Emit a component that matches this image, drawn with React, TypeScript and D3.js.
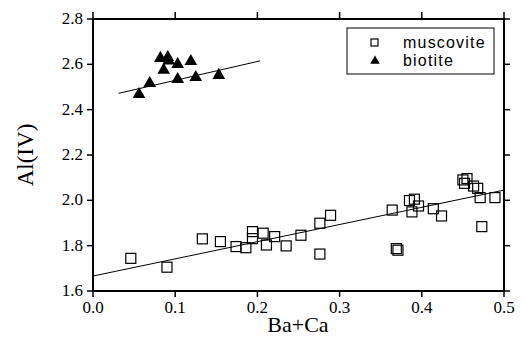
import React from "react";
import * as d3 from "d3";

const xTicks = [0.0, 0.1, 0.2, 0.3, 0.4, 0.5];
const yTicks = [1.6, 1.8, 2.0, 2.2, 2.4, 2.6, 2.8];

const muscoviteX = [0.046, 0.090, 0.133, 0.155, 0.174, 0.186, 0.194, 0.194, 0.207, 0.211, 0.221, 0.235, 0.253, 0.276, 0.276, 0.289, 0.364, 0.369, 0.371, 0.388, 0.385, 0.391, 0.396, 0.414, 0.424, 0.450, 0.455, 0.452, 0.463, 0.468, 0.471, 0.489, 0.473];
const muscoviteY = [1.744, 1.705, 1.830, 1.818, 1.796, 1.791, 1.862, 1.831, 1.855, 1.803, 1.840, 1.799, 1.846, 1.899, 1.763, 1.934, 1.957, 1.787, 1.780, 1.949, 1.999, 2.005, 1.975, 1.963, 1.931, 2.090, 2.096, 2.075, 2.063, 2.053, 2.012, 2.012, 1.884];

const biotiteX = [0.056, 0.069, 0.082, 0.091, 0.092, 0.086, 0.103, 0.103, 0.119, 0.125, 0.153];
const biotiteY = [2.468, 2.516, 2.627, 2.631, 2.615, 2.575, 2.600, 2.534, 2.613, 2.543, 2.552];

// regression lines
const muscoviteFitX = [0.0, 0.5];
const muscoviteFitY = [1.666, 2.045];
const biotiteFitX = [0.031, 0.203];
const biotiteFitY = [2.472, 2.615];

const W = 524, H = 338;
const L = 93, R = 504, T = 19, B = 291;

export default function App() {
  const x = d3.scaleLinear().domain([0, 0.5]).range([L, R]);
  const y = d3.scaleLinear().domain([1.6, 2.8]).range([B, T]);
  const line = d3.line<[number, number]>().x(d => x(d[0])).y(d => y(d[1]));
  const tri = d3.symbol().type(d3.symbolTriangle).size(70)();
  const serif = "'Liberation Serif', 'Times New Roman', serif";
  const sans = "'Liberation Sans', Arial, sans-serif";
  const muscFit: [number, number][] = muscoviteFitX.map((v, i) => [v, muscoviteFitY[i]]);
  const bioFit: [number, number][] = biotiteFitX.map((v, i) => [v, biotiteFitY[i]]);
  const sq = 10;
  return (
    <svg width={W} height={H} style={{ position: "absolute", left: 0, top: 0, background: "#fff" }}>
      <rect x={L} y={T} width={R - L} height={B - T} fill="none" stroke="#000" strokeWidth={2} />
      {xTicks.map((t, i) => (
        <g key={"xt" + i}>
          <line x1={x(t)} x2={x(t)} y1={B} y2={B + 6} stroke="#000" strokeWidth={1.5} />
          <line x1={x(t)} x2={x(t)} y1={T} y2={T - 7} stroke="#000" strokeWidth={1.5} />
          <text x={x(t)} y={B + 22} textAnchor="middle" fontFamily={serif} fontSize={17}>{d3.format(".1f")(t)}</text>
        </g>
      ))}
      {yTicks.map((t, i) => (
        <g key={"yt" + i}>
          <line x1={L} x2={L - 6} y1={y(t)} y2={y(t)} stroke="#000" strokeWidth={1.5} />
          <line x1={R} x2={R + 6} y1={y(t)} y2={y(t)} stroke="#000" strokeWidth={1.5} />
          <text x={L - 10} y={y(t) + 5} textAnchor="end" fontFamily={serif} fontSize={17}>{d3.format(".1f")(t)}</text>
        </g>
      ))}
      <text x={298} y={332} textAnchor="middle" fontFamily={serif} fontSize={22}>Ba+Ca</text>
      <text transform={`translate(33,155) rotate(-90)`} textAnchor="middle" fontFamily={serif} fontSize={23}>Al(IV)</text>
      <path d={line(muscFit) || ""} fill="none" stroke="#000" strokeWidth={1} />
      <path d={line(bioFit) || ""} fill="none" stroke="#000" strokeWidth={1} />
      {muscoviteX.map((v, i) => (
        <rect key={"m" + i} x={x(v) - sq / 2} y={y(muscoviteY[i]) - sq / 2} width={sq} height={sq} fill="none" stroke="#000" strokeWidth={1.2} />
      ))}
      {biotiteX.map((v, i) => (
        <path key={"b" + i} d={tri || ""} transform={`translate(${x(v)},${y(biotiteY[i])})`} fill="#000" />
      ))}
      <rect x={347} y={28} width={147} height={46} fill="#fff" stroke="#000" strokeWidth={1} />
      <rect x={371} y={39} width={7} height={7} fill="none" stroke="#000" strokeWidth={1.2} />
      <text x={403} y={48} fontFamily={sans} fontSize={16} letterSpacing={1.2}>muscovite</text>
      <path d={d3.symbol().type(d3.symbolTriangle).size(40)() || ""} transform="translate(375,61)" fill="#000" />
      <text x={403} y={66} fontFamily={sans} fontSize={16} letterSpacing={1.2}>biotite</text>
    </svg>
  );
}
